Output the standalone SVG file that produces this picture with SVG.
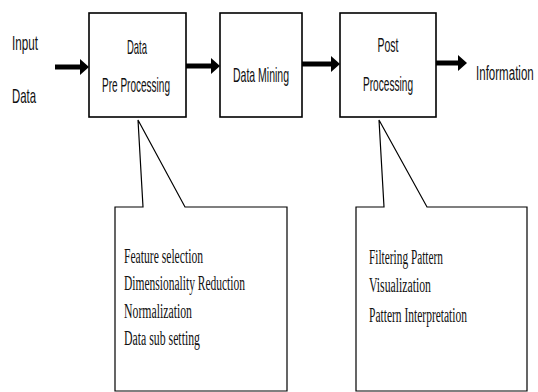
<svg xmlns="http://www.w3.org/2000/svg" width="538" height="392" viewBox="0 0 538 392">
<style>
.box{fill:#fff;stroke:#000;stroke-width:1.6}
.call{fill:#fff;stroke:#000;stroke-width:1.2}
.sans{font-family:"Liberation Sans",Arial,sans-serif;font-size:21px;fill:#111}
.serif{font-family:"Liberation Serif","Times New Roman",serif;font-size:20px;fill:#111}
.shaft{stroke:#000;stroke-width:5;fill:none}
.head{fill:#000}
</style>
<rect width="538" height="392" fill="#fff"/>
<g id="labels">
<text class="sans" x="12" y="50" textLength="26" lengthAdjust="spacingAndGlyphs">Input</text>
<text class="sans" x="12" y="103" textLength="24" lengthAdjust="spacingAndGlyphs">Data</text>
<text class="sans" transform="translate(476,80) scale(0.55,1)">Information</text>
</g>
<g id="connectors">
<line class="shaft" x1="55" y1="67" x2="81" y2="67"/><polygon class="head" points="80,59 89,67 80,75"/>
<line class="shaft" x1="186" y1="66" x2="212" y2="66"/><polygon class="head" points="211,58 220,66 211,74"/>
<line class="shaft" x1="302" y1="64" x2="332" y2="64"/><polygon class="head" points="331,56 340,64 331,72"/>
<line class="shaft" x1="436" y1="63" x2="459" y2="63"/><polygon class="head" points="458,55 467,63 458,71"/>
</g>
<g id="preprocessing">
<rect class="box" x="89" y="13" width="97" height="104"/>
<text class="sans" x="137" y="54" text-anchor="middle" textLength="20" lengthAdjust="spacingAndGlyphs">Data</text>
<text class="sans" x="136" y="92" text-anchor="middle" textLength="68" lengthAdjust="spacingAndGlyphs">Pre Processing</text>
</g>
<g id="datamining">
<rect class="box" x="220" y="13" width="82" height="104"/>
<text class="sans" x="261" y="82" text-anchor="middle" textLength="56" lengthAdjust="spacingAndGlyphs">Data Mining</text>
</g>
<g id="postprocessing">
<rect class="box" x="340" y="13" width="96" height="104"/>
<text class="sans" x="388" y="52" text-anchor="middle" textLength="21" lengthAdjust="spacingAndGlyphs">Post</text>
<text class="sans" x="388" y="91" text-anchor="middle" textLength="50" lengthAdjust="spacingAndGlyphs">Processing</text>
</g>
<g id="callout1">
<path class="call" d="M115,207 L143,207 L138,120 L185,207 L287,207 L287,391 L115,391 Z"/>
<text class="serif" x="124" y="263" textLength="79" lengthAdjust="spacingAndGlyphs">Feature selection</text>
<text class="serif" x="124" y="290" textLength="121" lengthAdjust="spacingAndGlyphs">Dimensionality Reduction</text>
<text class="serif" x="124" y="318" textLength="68" lengthAdjust="spacingAndGlyphs">Normalization</text>
<text class="serif" x="124" y="345" textLength="76" lengthAdjust="spacingAndGlyphs">Data sub setting</text>
</g>
<g id="callout2">
<path class="call" d="M356,207 L384,207 L379,120 L427,207 L527,207 L527,391 L356,391 Z"/>
<text class="serif" x="369" y="264" textLength="74" lengthAdjust="spacingAndGlyphs">Filtering Pattern</text>
<text class="serif" x="369" y="292" textLength="62" lengthAdjust="spacingAndGlyphs">Visualization</text>
<text class="serif" x="369" y="322" textLength="98" lengthAdjust="spacingAndGlyphs">Pattern Interpretation</text>
</g>
</svg>
